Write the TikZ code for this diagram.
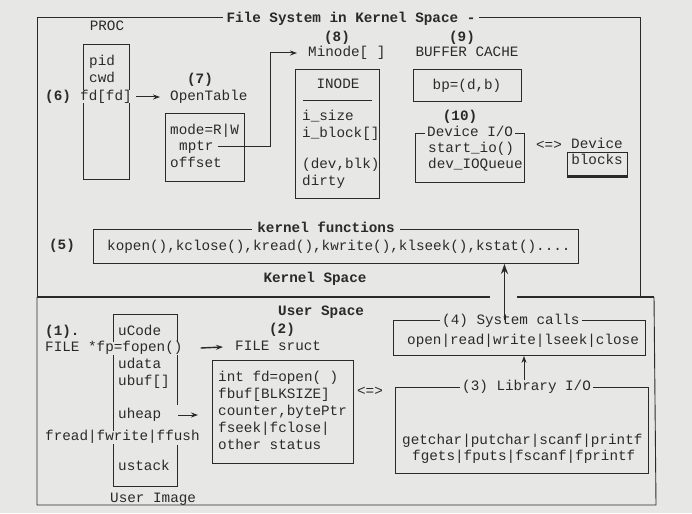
\documentclass[tikz,border=0pt]{standalone}
\usepackage{fontspec}
\newfontfamily\mono{Liberation Mono}
\usetikzlibrary{arrows.meta}
\definecolor{bg}{RGB}{231,231,229}
\definecolor{ink}{RGB}{42,42,42}
\tikzset{
  txt/.style={font=\mono\fontsize{14.3}{16}\selectfont, text=ink, inner sep=0pt, text height=10pt, text depth=3pt},
  tl/.style={txt, anchor=west},
  bold/.style={font=\mono\bfseries\fontsize{14.3}{16}\selectfont},
  lbl/.style={fill=bg, inner xsep=2pt},
  box/.style={draw=ink, line width=0.9pt},
  sep/.style={draw=ink, line width=1.8pt},
  arr/.style={draw=ink, line width=1pt, -{Stealth[length=7pt,width=5pt]}},
  bigarr/.style={draw=ink, line width=1.6pt, -{Stealth[length=10pt,width=7pt]}},
  rect/.style={box, anchor=north west, inner sep=0pt},
}
\begin{document}
\begin{tikzpicture}[x=1pt,y=-1pt]
\path[fill=bg] (0,0) rectangle (692,513);
% ---------------- outer frames ----------------
\draw[box] (37,297) -- (37,17) -- (640,17) -- (640,297);
\draw[sep] (37,297) -- (490,297);
\draw[sep] (517,297) -- (654,297);
\draw[box] (37,297) -- (37,505) -- (656,505) -- (654,297);
\node[txt, bold, lbl, inner xsep=4pt] (fsttl) at (351,19) {File System in Kernel Space -};

% ---------------- PROC ----------------
\node[txt] (proc) at (107,27) {PROC};
\node[rect, minimum width=46pt, minimum height=135pt] (procbox) at (83,44) {};
\node[tl] (pid) at (89,62) {pid};
\node[tl] (cwd) at (89,79) {cwd};
\node[tl, fill=bg] (fd) at (80,97) {fd[fd]};
\node[tl, bold] (six) at (45,97) {(6)};

% ---------------- OpenTable ----------------
\node[txt, bold] (seven) at (200,80) {(7)};
\node[tl] (opentable) at (170,97) {OpenTable};
\node[rect, minimum width=79pt, minimum height=68pt] (otbox) at (165,113) {};
\node[tl] (mode) at (170,131) {mode=R|W};
\node[tl] (mptr) at (179,147) {mptr};
\node[tl] (offset) at (170,164) {offset};

% ---------------- Minode ----------------
\node[txt, bold] (eight) at (337,38) {(8)};
\node[tl] (minode) at (308,53) {Minode[ ]};
\node[rect, minimum width=84pt, minimum height=129pt] (mibox) at (295,69) {};
\node[txt] (inode) at (338,85) {INODE};
\draw[box] (303,100) -- (372,100);
\node[tl] (isize) at (302,117) {i\_size};
\node[tl] (iblock) at (302,134) {i\_block[]};
\node[tl] (devblk) at (302,165) {(dev,blk)};
\node[tl] (dirty) at (302,182) {dirty};

% ---------------- Buffer cache ----------------
\node[txt, bold] (nine) at (462,38) {(9)};
\node[txt] (bcache) at (467,53) {BUFFER CACHE};
\node[rect, minimum width=108pt, minimum height=32pt] (bpbox) at (413,69) {};
\node[txt] (bp) at (467,86) {bp=(d,b)};

% ---------------- Device I/O ----------------
\node[txt, bold] (ten) at (460,117) {(10)};
\node[rect, minimum width=109pt, minimum height=49pt] (diobox) at (415,133) {};
\node[tl, lbl] (devio) at (425,133) {Device I/O};
\node[tl] (startio) at (428,149) {start\_io()};
\node[tl] (devq) at (428,165) {dev\_IOQueue};
\node[txt] (deq) at (549,146) {<=>};
\node[tl] (device) at (571,145) {Device};
\node[rect, minimum width=60pt, minimum height=23pt] (blkbox) at (567,152) {};
\draw[ink, line width=2pt] ([yshift=-1.5pt]blkbox.south west) -- ([yshift=-1.5pt]blkbox.south east);
\node[txt] (blocks) at (597,161) {blocks};

% ---------------- kernel functions ----------------
\node[txt, bold] (five) at (62,246) {(5)};
\node[rect, minimum width=485pt, minimum height=34pt] (kfbox) at (93,229) {};
\node[txt, bold, lbl, inner xsep=5pt] (kfttl) at (326,229) {kernel functions};
\node[tl] (kfun) at (107,247) {kopen(),kclose(),kread(),kwrite(),klseek(),kstat()....};
\node[txt, bold] (kspace) at (315,279) {Kernel Space};

% ---------------- User space ----------------
\node[tl, bold] (uspace) at (278,312) {User Space};
\node[tl, bold] (one) at (45,332) {(1).};
\draw[box] (177,405) -- (177,314) -- (113,314) -- (113,486) -- (177,486) -- (177,445);
\node[tl, fill=bg] (fopen) at (45,348) {FILE *fp=fopen()};
\node[txt, bold] (two) at (282,330) {(2)};
\node[tl] (fsruct) at (235,347) {FILE sruct};
\node[tl] (ucode) at (118,332) {uCode};
\node[tl] (udata) at (118,365) {udata};
\node[tl] (ubuf) at (118,382) {ubuf[]};
\node[tl] (uheap) at (118,415) {uheap};
\node[tl, fill=bg] (fread) at (45,437) {fread|fwrite|ffush};
\node[tl] (ustack) at (118,467) {ustack};
\node[tl] (uimage) at (110,499) {User Image};

\node[rect, minimum width=141pt, minimum height=103pt] (fsbox) at (212,360) {};
\node[tl] (fdopen) at (218,378) {int fd=open( )};
\node[tl] (fbuf) at (218,395) {fbuf[BLKSIZE]};
\node[tl] (counter) at (218,412) {counter,bytePtr};
\node[tl] (fseek) at (218,429) {fseek|fclose|};
\node[tl] (other) at (218,446) {other status};
\node[txt] (ueq) at (370,392) {<=>};

% ---------------- System calls ----------------
\node[rect, minimum width=252pt, minimum height=35pt] (sysbox) at (393,320) {};
\node[tl, lbl] (systtl) at (440,321) {(4) System calls};
\node[tl] (syscalls) at (407,341) {open|read|write|lseek|close};

% ---------------- Library I/O ----------------
\node[rect, minimum width=253pt, minimum height=86pt] (libbox) at (395,387) {};
\node[tl, lbl] (libttl) at (460,387) {(3) Library I/O};
\node[tl] (getc) at (402,441) {getchar|putchar|scanf|printf};
\node[tl] (fgets) at (412,457) {fgets|fputs|fscanf|fprintf};

% ---------------- connectors ----------------
\draw[arr] ([xshift=4pt]fd.east) -- ([xshift=-10pt]opentable.west);
\draw[arr] ([xshift=4pt]mptr.east) -| ([xshift=-38pt]minode.west) -- ([xshift=-11pt]minode.west);
\draw[arr, line width=1.4pt] ([xshift=18pt]fopen.east) -- ([xshift=-12pt]fsruct.west);
\draw[arr] ([xshift=17pt]uheap.east) -- ([xshift=-14pt]fsbox.west |- uheap.east);
\draw[bigarr] ([xshift=-15pt]sysbox.north) -- ([xshift=-15pt]sysbox.north |- kfbox.south);
\draw[arr] ([xshift=64pt]libttl.north west) -- ([xshift=64pt]libttl.north west |- sysbox.south);
\end{tikzpicture}
\end{document}
